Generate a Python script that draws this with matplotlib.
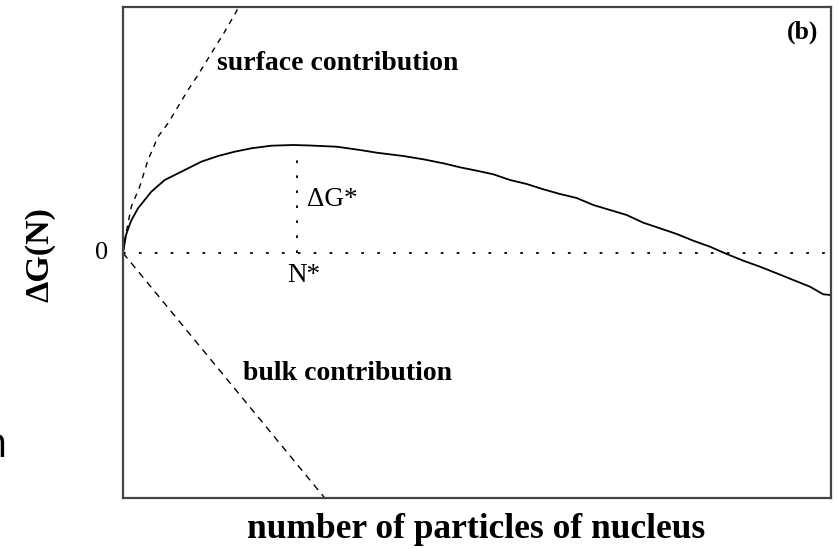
import matplotlib
matplotlib.use("Agg")
import matplotlib.pyplot as plt

# Values (arbitrary units: x = number of particles, y = free energy)
total_x = [0, 3, 8, 15, 28.3, 41.7, 61.7, 78.3, 95, 111.7, 128.3, 148.3, 170, 187, 213.7, 237,
           253.7, 280.3, 300.3, 320.3, 337, 353.7, 370.3, 387, 403.7, 420.3, 437, 453.7,
           470.3, 487, 503.7, 520.3, 537, 553.7, 570.3, 587, 603.7, 620.3, 637, 653.7,
           670.3, 687, 700.3, 708]
total_y = [0, 18, 32, 44.7, 61.3, 73, 83, 91.3, 97, 101.3, 104.7, 107.3, 108, 107.5, 106.3, 103,
           100.3, 97, 93.7, 89.7, 85.7, 82.3, 78.7, 73, 69, 63.7, 59, 55,
           48, 43, 38, 30.3, 24.7, 19, 12.3, 6.3, -1, -7.7, -13.7, -20.3,
           -27, -33.7, -41.3, -42]

surface_x = [0, 1.7, 8.3, 16.7, 25, 35, 45, 55, 65, 75, 88.3, 101.7, 113.3, 118]
surface_y = [0, 13, 46.3, 66.3, 93, 116.3, 129.7, 146.3, 163, 178, 199.7, 221.3, 241.3, 252]

bulk_x = [0, 210]
bulk_y = [0, -255]

n_star = 174
dg_star = 98

x_limits = [0, 708]
y_limits = [-245, 246]

serif = ["Liberation Serif", "DejaVu Serif"]

fig = plt.figure(figsize=(8.38, 5.49), dpi=100)
ax = fig.add_axes([123 / 838, 51 / 549, 708 / 838, 491 / 549])

ax.plot(total_x, total_y, color="black", lw=1.3)
ax.plot(surface_x, surface_y, color="black", lw=1.0, linestyle=(0, (4, 4)))
ax.plot(bulk_x, bulk_y, color="black", lw=1.0, linestyle=(0, (5, 4)))
ax.axhline(0, color="black", lw=1.3, linestyle=(0, (1.5, 7.3)))
ax.plot([n_star, n_star], [0, dg_star], color="black", lw=1.3, linestyle=(0, (1.5, 6.8)))

ax.set_xlim(x_limits)
ax.set_ylim(y_limits)
ax.set_xticks([])
ax.set_yticks([])
for s in ax.spines.values():
    s.set_color("#444444")
    s.set_linewidth(1.6)

# annotations
ax.text(94, 190, "surface contribution", family=serif, weight="bold", fontsize=20,
        ha="left", va="center")
ax.text(120, -120, "bulk contribution", family=serif, weight="bold", fontsize=20,
        ha="left", va="center")
ax.text(n_star + 10, 53, "ΔG*", family=serif, fontsize=19.5, ha="left", va="center")
ax.text(n_star - 10, -22, "N*", family=serif, fontsize=19.5, ha="left", va="center")
ax.text(0.982, 0.948, "(b)", transform=ax.transAxes, family=serif, weight="bold",
        fontsize=18.5, ha="right", va="center")

fig.text(102 / 838, 1 - 253 / 549, "0", family=serif, fontsize=19, ha="center", va="center")
fig.text(40 / 838, 1 - 255 / 549, "ΔG(N)", family=serif, weight="bold", fontsize=24.5,
         rotation=90, ha="center", va="center")
fig.text(476 / 838, 1 - 530 / 549, "number of particles of nucleus", family=serif,
         weight="bold", fontsize=25.5, ha="center", va="center")
fig.text(7 / 838, 1 - 446 / 549, "n", family=["Open Sans", "DejaVu Sans"], fontsize=30,
         ha="right", va="center")

fig.savefig("out.png", dpi=100)
